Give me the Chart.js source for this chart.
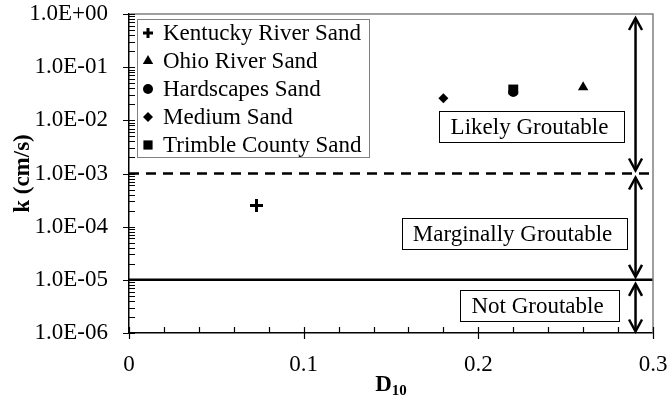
<!DOCTYPE html>
<html>
<head>
<meta charset="utf-8">
<script src="https://cdn.jsdelivr.net/npm/chart.js@4.4.1/dist/chart.umd.min.js"></script>
<style>
  html, body { margin: 0; padding: 0; background: #fff; }
  #wrap { width: 670px; height: 400px; }
</style>
</head>
<body>
<div id="wrap"><canvas id="chart"></canvas></div>
<script>
// data
const seriesNames = ['Kentucky River Sand', 'Ohio River Sand', 'Hardscapes Sand', 'Medium Sand', 'Trimble County Sand'];
const d10Values = [0.073, 0.26, 0.22, 0.18, 0.22];
const kValues = [2.5e-4, 0.042, 0.034, 0.026, 0.038];

const xTicks = [0, 0.1, 0.2, 0.3];
const xTickLabels = ['0', '0.1', '0.2', '0.3'];
const yTicks = [1e-6, 1e-5, 1e-4, 1e-3, 1e-2, 1e-1, 1];
const yTickLabels = ['1.0E-06', '1.0E-05', '1.0E-04', '1.0E-03', '1.0E-02', '1.0E-01', '1.0E+00'];

// groutability limits and the bands between them
const likelyLimit = 1e-3;
const marginalLimit = 1e-5;
const bandEdges = [1, 1e-3, 1e-5, 1e-6];
const bandLabels = ['Likely Groutable', 'Marginally Groutable', 'Not Groutable'];
const arrowD10 = 0.29;

const FONT = '"Liberation Serif", "Times New Roman", serif';
const FS = 23;
const markers = {
  'Kentucky River Sand': { pointStyle: 'cross', radius: 6.5, borderWidth: 3, legendRadius: 5 },
  'Ohio River Sand': { pointStyle: 'triangle', radius: 6, borderWidth: 0, legendRadius: 6 },
  'Hardscapes Sand': { pointStyle: 'circle', radius: 5, borderWidth: 0, legendRadius: 5 },
  'Medium Sand': { pointStyle: 'rectRot', radius: 5, borderWidth: 0, legendRadius: 5 },
  'Trimble County Sand': { pointStyle: 'rect', radius: 7, borderWidth: 0, legendRadius: 6.5 }
};

const scatterSets = seriesNames.map((name, i) => ({
  label: name,
  data: [{ x: d10Values[i], y: kValues[i] }],
  pointStyle: markers[name].pointStyle,
  pointRadius: markers[name].radius,
  pointBorderWidth: markers[name].borderWidth,
  pointBackgroundColor: '#000',
  pointBorderColor: '#000',
  showLine: false
}));

const limitSets = [
  { label: 'likely', data: [{ x: xTicks[0], y: likelyLimit }, { x: xTicks[3], y: likelyLimit }], borderDash: [10, 7] },
  { label: 'marginal', data: [{ x: xTicks[0], y: marginalLimit }, { x: xTicks[3], y: marginalLimit }], borderDash: [] }
].map(s => Object.assign(s, {
  showLine: true, pointRadius: 0, borderColor: '#000', borderWidth: 2.5, fill: false
}));

// label boxes, in canvas pixels
const boxes = [
  { x0: 439, y0: 111, x1: 624, y1: 142 },
  { x0: 402, y0: 218, x1: 627, y1: 249 },
  { x0: 460, y0: 290, x1: 619, y1: 321 }
];

function arrowHead(ctx, x, yTip, dir) {
  ctx.beginPath();
  ctx.moveTo(x - 6.5, yTip - dir * 12);
  ctx.lineTo(x, yTip);
  ctx.lineTo(x + 6.5, yTip - dir * 12);
  ctx.stroke();
}

const decor = {
  id: 'decor',
  afterDatasetsDraw(chart) {
    const { ctx, chartArea: a, scales: { x, y } } = chart;
    ctx.save();

    // top and right frame
    ctx.strokeStyle = '#808080';
    ctx.lineWidth = 1.5;
    ctx.beginPath();
    ctx.moveTo(a.left, a.top);
    ctx.lineTo(a.right, a.top);
    ctx.lineTo(a.right, a.bottom);
    ctx.stroke();

    // tick marks
    ctx.strokeStyle = '#000';
    ctx.lineWidth = 1.2;
    ctx.beginPath();
    yTicks.forEach((v, i) => {
      const py = Math.round(y.getPixelForValue(v)) + 0.5;
      ctx.moveTo(a.left - 6, py); ctx.lineTo(a.left + 6, py);
      if (i < yTicks.length - 1) {
        for (let m = 2; m <= 9; m++) {
          const pm = Math.round(y.getPixelForValue(v * m)) + 0.5;
          ctx.moveTo(a.left, pm); ctx.lineTo(a.left + 6, pm);
        }
      }
    });
    for (let k = 0; k <= 15; k++) {
      const px = Math.round(x.getPixelForValue(k * 0.02)) + 0.5;
      if (k % 5 === 0) { ctx.moveTo(px, a.bottom - 6); ctx.lineTo(px, a.bottom + 6); }
      else { ctx.moveTo(px, a.bottom - 6); ctx.lineTo(px, a.bottom); }
    }
    ctx.stroke();

    // double arrows across each band
    const ax = x.getPixelForValue(arrowD10);
    ctx.lineWidth = 2.5;
    for (let i = 0; i < bandLabels.length; i++) {
      const top = y.getPixelForValue(bandEdges[i]) + 4;
      const bot = y.getPixelForValue(bandEdges[i + 1]) - (i === bandLabels.length - 1 ? 1.5 : 3);
      ctx.beginPath();
      ctx.moveTo(ax, top + 1); ctx.lineTo(ax, bot - 1);
      ctx.stroke();
      arrowHead(ctx, ax, top, -1);
      arrowHead(ctx, ax, bot, 1);
    }

    // band label boxes
    ctx.font = FS + 'px ' + FONT;
    ctx.textBaseline = 'middle';
    ctx.textAlign = 'center';
    ctx.lineWidth = 1;
    boxes.forEach((b, i) => {
      ctx.fillStyle = '#fff';
      ctx.fillRect(b.x0, b.y0, b.x1 - b.x0, b.y1 - b.y0);
      ctx.strokeStyle = '#000';
      ctx.strokeRect(b.x0 + 0.5, b.y0 + 0.5, b.x1 - b.x0, b.y1 - b.y0);
      ctx.fillStyle = '#000';
      ctx.fillText(bandLabels[i], (b.x0 + b.x1) / 2 - 2, (b.y0 + b.y1) / 2 + 1);
    });

    // legend
    const lx = 137, ly = 19, lw = 232, lh = 138;
    ctx.fillStyle = '#fff';
    ctx.fillRect(lx, ly, lw, lh);
    ctx.strokeStyle = '#808080';
    ctx.strokeRect(lx + 0.5, ly + 0.5, lw, lh);
    ctx.textAlign = 'left';
    seriesNames.forEach((name, i) => {
      const m = markers[name];
      const cy = 33 + 28 * i;
      ctx.fillStyle = '#000';
      ctx.strokeStyle = '#000';
      ctx.lineWidth = m.borderWidth;
      Chart.helpers.drawPoint(ctx, {
        pointStyle: m.pointStyle, radius: m.legendRadius, rotation: 0, borderWidth: m.borderWidth
      }, 148, cy);
      ctx.fillText(name, 163, cy + 1);
    });

    ctx.restore();
  },
  afterDraw(chart) {
    const { ctx, chartArea: a } = chart;
    ctx.save();
    ctx.fillStyle = '#000';
    // y title
    ctx.translate(23, (a.top + a.bottom) / 2);
    ctx.rotate(-Math.PI / 2);
    ctx.font = 'bold ' + FS + 'px ' + FONT;
    ctx.textAlign = 'center';
    ctx.textBaseline = 'middle';
    ctx.fillText('k (cm/s)', 0, 0);
    ctx.restore();

    // x title with subscript
    ctx.save();
    ctx.fillStyle = '#000';
    ctx.textBaseline = 'alphabetic';
    ctx.textAlign = 'left';
    ctx.font = 'bold ' + FS + 'px ' + FONT;
    const wD = ctx.measureText('D').width;
    ctx.font = 'bold 15px ' + FONT;
    const wS = ctx.measureText('10').width;
    const x0 = (a.left + a.right) / 2 - (wD + wS) / 2;
    ctx.font = 'bold ' + FS + 'px ' + FONT;
    ctx.fillText('D', x0, 391);
    ctx.font = 'bold 15px ' + FONT;
    ctx.fillText('10', x0 + wD, 395);
    ctx.restore();
  }
};

new Chart(document.getElementById('chart'), {
  type: 'scatter',
  data: { datasets: [...limitSets, ...scatterSets] },
  options: {
    responsive: true,
    maintainAspectRatio: false,
    animation: false,
    events: [],
    layout: { padding: { left: 0, right: 17, top: 14, bottom: 0 } },
    plugins: { legend: { display: false }, tooltip: { enabled: false } },
    scales: {
      x: {
        type: 'linear', min: 0, max: 0.3,
        afterBuildTicks: s => { s.ticks = xTicks.map(v => ({ value: v })); },
        afterFit: s => { s.height = 67; s.paddingLeft = 0; s.paddingRight = 0; },
        grid: { display: false, drawTicks: false },
        border: { display: true, color: '#000', width: 1.5 },
        ticks: {
          color: '#000', font: { family: FONT, size: FS }, padding: 18, maxRotation: 0,
          callback: (v, i) => xTickLabels[i]
        }
      },
      y: {
        type: 'logarithmic', min: 1e-6, max: 1,
        afterBuildTicks: s => { s.ticks = yTicks.map(v => ({ value: v })); },
        afterFit: s => { s.width = 129; s.paddingTop = 0; s.paddingBottom = 0; },
        grid: { display: false, drawTicks: false },
        border: { display: true, color: '#000', width: 1.5 },
        ticks: {
          color: '#000', font: { family: FONT, size: FS }, padding: 21,
          callback: (v, i) => yTickLabels[i]
        }
      }
    }
  },
  plugins: [decor]
});
</script>
</body>
</html>
